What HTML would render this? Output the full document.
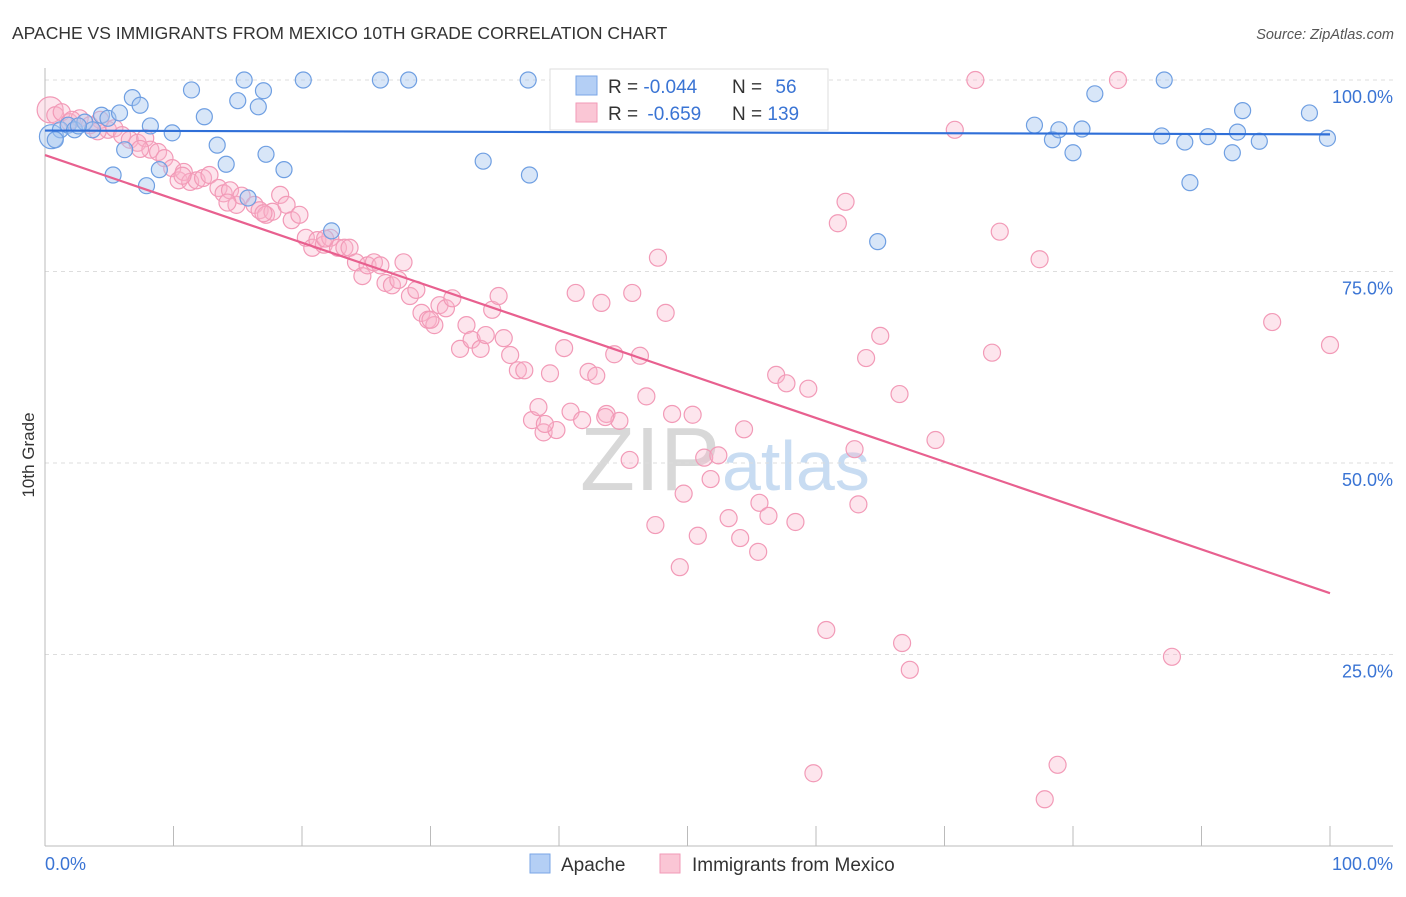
<!DOCTYPE html>
<html><head><meta charset="utf-8">
<style>
body{margin:0;background:#fff;font-family:"Liberation Sans",sans-serif;}
svg text{font-family:"Liberation Sans",sans-serif;}
</style></head>
<body>
<svg id="chart" width="1406" height="892" viewBox="0 0 1406 892">
<text x="12" y="39" font-size="17.5" fill="#333">APACHE VS IMMIGRANTS FROM MEXICO 10TH GRADE CORRELATION CHART</text>
<text x="1394" y="39" font-size="14.5" fill="#555" font-style="italic" text-anchor="end">Source: ZipAtlas.com</text>
<text x="34" y="455" font-size="17" fill="#333" text-anchor="middle" transform="rotate(-90 34 455)">10th Grade</text>
<text x="720" y="490" font-size="90" fill="#d8d8d8" text-anchor="end" font-family="Liberation Serif">ZIP</text>
<text x="722" y="490" font-size="70" fill="#c8dcf2">atlas</text>
<g id="grid"></g>
<g id="axes"></g>
<g id="pts"></g>
<g id="lines"></g>
<g>
<rect x="550" y="69" width="278" height="61" fill="#fff" stroke="#ddd"/>
<rect x="576" y="76" width="21" height="19" fill="#b4cff5" stroke="#7aa6e6"/>
<rect x="576" y="103" width="21" height="19" fill="#fac6d5" stroke="#f29ab7"/>
<text x="608" y="93" font-size="19" fill="#333">R = <tspan fill="#3a74d4">-0.044</tspan></text>
<text x="732" y="93" font-size="19" fill="#333">N = <tspan fill="#3a74d4" dx="8">56</tspan></text>
<text x="608" y="120" font-size="19" fill="#333">R = <tspan fill="#3a74d4" dx="4">-0.659</tspan></text>
<text x="732" y="120" font-size="19" fill="#333">N = <tspan fill="#3a74d4">139</tspan></text>
</g>
<g>
<rect x="530" y="854" width="20" height="19" fill="#b4cff5" stroke="#7aa6e6"/>
<text x="561" y="871" font-size="19" fill="#333">Apache</text>
<rect x="660" y="854" width="20" height="19" fill="#fac6d5" stroke="#f29ab7"/>
<text x="692" y="871" font-size="19" fill="#333">Immigrants from Mexico</text>
</g>
<text x="45" y="870" font-size="18" fill="#3a74d4">0.0%</text>
<text x="1393" y="870" font-size="18" fill="#3a74d4" text-anchor="end">100.0%</text>
</svg>
<script>
const yTicks=[100,75,50,25];
const yTickLabels=["100.0%","75.0%","50.0%","25.0%"];
const apacheX=[0.5,1.2,1.8,2.3,3.1,3.7,4.4,4.9,5.3,5.8,6.2,6.8,7.4,7.9,8.2,8.9,9.9,11.4,12.4,13.4,14.1,15.0,15.5,16.6,17.0,17.2,18.6,20.1,22.3,26.1,28.3,34.1,37.6,37.7,42.6,64.8,77.0,78.4,78.9,80.0,80.7,81.7,87.1,86.9,88.7,89.1,90.5,92.4,92.8,93.2,94.5,98.4,99.8,0.8,2.6,15.8];
const apacheY=[92.6,93.5,94.1,93.5,94.5,93.5,95.4,95.0,87.6,95.7,90.9,97.7,96.7,86.2,94.0,88.3,93.1,98.7,95.2,91.5,89.0,97.3,100,96.5,98.6,90.3,88.3,100,80.3,100,100,89.4,100,87.6,100,78.9,94.1,92.2,93.5,90.5,93.6,98.2,100,92.7,91.9,86.6,92.6,90.5,93.2,96.0,92.0,95.7,92.4,92.2,94.0,84.6];
const mexX=[0.4,0.8,1.3,1.9,2.7,3.5,4.3,4.9,5.4,6.0,6.6,7.2,7.8,8.2,8.8,9.3,9.9,10.4,10.8,11.3,11.8,12.3,12.8,13.5,13.9,14.4,14.9,15.3,16.3,16.7,17.2,17.7,18.3,18.8,19.2,19.8,20.3,20.8,21.2,21.7,22.2,22.8,23.3,23.7,24.2,24.7,25.1,25.6,26.1,26.5,27.0,27.5,27.9,28.4,28.9,29.3,29.8,30.3,30.7,31.2,31.7,32.3,32.8,33.2,33.9,34.3,34.8,35.3,35.7,36.2,36.8,37.3,37.9,38.4,38.8,39.3,39.8,40.4,40.9,41.3,41.8,42.3,42.9,43.3,43.7,44.3,44.7,45.5,45.7,46.3,46.8,47.5,47.7,48.3,48.8,49.4,49.7,50.4,50.8,51.3,51.8,52.4,53.2,54.1,54.4,55.5,55.6,56.3,56.9,57.7,58.4,59.4,59.8,60.8,61.7,62.3,63.0,63.3,63.9,65.0,66.5,66.7,67.3,69.3,70.8,72.4,73.7,74.3,77.4,77.8,78.8,83.5,87.7,95.5,100,2.1,4.1,7.4,10.7,14.2,17.0,21.8,30.0,38.9,43.6];
const mexY=[96.1,95.4,95.8,94.5,95.0,94.1,94.8,93.5,93.7,92.8,92.2,91.8,92.4,90.9,90.6,89.8,88.5,86.9,88.0,86.7,86.9,87.2,87.6,85.9,85.2,85.6,83.7,84.9,83.7,83.0,82.4,82.8,85.0,83.7,81.7,82.4,79.4,78.1,79.1,78.5,79.4,78.1,78.1,78.1,76.2,74.4,75.8,76.2,75.8,73.5,73.2,73.9,76.2,71.8,72.6,69.6,68.7,68.0,70.6,70.2,71.5,64.9,68.0,66.1,64.9,66.7,70.0,71.8,66.3,64.1,62.1,62.1,55.6,57.3,54.0,61.7,54.3,65.0,56.7,72.2,55.6,61.9,61.4,70.9,56.4,64.2,55.5,50.4,72.2,64.0,58.7,41.9,76.8,69.6,56.4,36.4,46.0,56.3,40.5,50.7,47.9,51.0,42.8,40.2,54.4,38.4,44.8,43.1,61.5,60.4,42.3,59.7,9.5,28.2,81.3,84.1,51.8,44.6,63.7,66.6,59.0,26.5,23.0,53.0,93.5,100,64.4,80.2,76.6,6.1,10.6,100,24.7,68.4,65.4,94.8,93.3,91.0,87.5,84.0,82.6,79.3,68.7,55.1,56.0];
const apacheTrend=[93.4,92.9];
const mexTrend=[90.2,33.0];

const NS="http://www.w3.org/2000/svg";
const X0=45,X1=1330,Y100=80,Y0=846;
const sx=v=>X0+(X1-X0)*v/100;
const sy=v=>Y0-(Y0-Y100)*v/100;
function mk(tag,attrs,parent){const e=document.createElementNS(NS,tag);for(const k in attrs)e.setAttribute(k,attrs[k]);parent.appendChild(e);return e;}
const grid=document.getElementById('grid'),axes=document.getElementById('axes'),pts=document.getElementById('pts'),lines=document.getElementById('lines');
yTicks.forEach((t,i)=>{
  const l=mk('line',{x1:X0,x2:1393,y1:sy(t),y2:sy(t),stroke:'#ddd','stroke-dasharray':'4 4'},grid);
  
  
  const tx=mk('text',{x:1393,y:sy(t)+23,'font-size':18,fill:'#3a74d4','text-anchor':'end'},axes);
  tx.textContent=yTickLabels[i];
  
  
});
const ax=mk('line',{x1:X0,x2:X0,y1:68,y2:Y0,stroke:'#bbb'},axes);


const bx=mk('line',{x1:X0,x2:1393,y1:Y0,y2:Y0,stroke:'#bbb'},axes);


for(let i=0;i<=10;i++){
  const t=mk('line',{x1:sx(i*10),x2:sx(i*10),y1:826,y2:Y0,stroke:'#bbb'},axes);
  
  
}
mexX.forEach((v,i)=>{
  const c=mk('circle',{cx:sx(v),cy:sy(mexY[i]),r:i===0?13:8.5,fill:'rgba(248,180,202,0.35)',stroke:'#f29ab7','stroke-width':1.2},pts);
  
  
});
apacheX.forEach((v,i)=>{
  const c=mk('circle',{cx:sx(v),cy:sy(apacheY[i]),r:i===0?12:8,fill:'rgba(168,200,240,0.45)',stroke:'#6f9fe2','stroke-width':1.2},pts);
  
  
});
const l1=mk('line',{x1:sx(0),x2:sx(100),y1:sy(apacheTrend[0]),y2:sy(apacheTrend[1]),stroke:'#2f6fd8','stroke-width':2.2},lines);


const l2=mk('line',{x1:sx(0),x2:sx(100),y1:sy(mexTrend[0]),y2:sy(mexTrend[1]),stroke:'#e8608f','stroke-width':2.2},lines);


</script>
</body></html>
